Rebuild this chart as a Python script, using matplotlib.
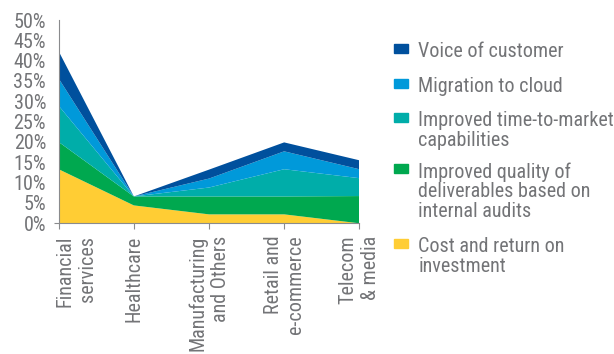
import matplotlib
matplotlib.use("Agg")
import matplotlib.pyplot as plt
from matplotlib.patches import Rectangle
from matplotlib.transforms import ScaledTranslation

# Data (percent of respondents, stacked bottom to top)
categories = ["Financial\nservices", "Healthcare", "Manufacturing\nand Others",
              "Retail and\ne-commerce", "Telecom\n& media"]
series_names = ["Cost and return on\ninvestment",
                "Improved quality of\ndeliverables based on\ninternal audits",
                "Improved time-to-market\ncapabilities",
                "Migration to cloud",
                "Voice of customer"]
cost_roi = [13.3, 4.4, 2.2, 2.2, 0.0]
quality = [6.7, 2.2, 4.4, 4.4, 6.7]
time_to_market = [8.9, 0.0, 2.2, 6.7, 4.4]
cloud = [6.7, 0.0, 2.2, 4.4, 2.2]
voice = [6.7, 0.0, 2.2, 2.2, 2.2]
y_ticks = [0, 5, 10, 15, 20, 25, 30, 35, 40, 45, 50]

colors = ["#FFCD34", "#00A84F", "#00ADA9", "#0099DA", "#00509D"]
text_color = "#737477"
axis_color = "#8A8B8D"

plt.rcParams['font.family'] = ['Roboto Condensed', 'DejaVu Sans']

W, H = 614, 354
fig = plt.figure(figsize=(W / 100, H / 100), dpi=100)
ax = fig.add_axes([58.7 / W, 1 - 223.3 / H, 300.6 / W, 203.3 / H])

x = list(range(len(categories)))
ax.stackplot(x, cost_roi, quality, time_to_market, cloud, voice,
             colors=colors, linewidth=0)

ax.set_xlim(0, len(categories) - 1)
ax.set_ylim(0, 50)

# Peripherals
for side in ["top", "right"]:
    ax.spines[side].set_visible(False)
for side in ["left", "bottom"]:
    ax.spines[side].set_color(axis_color)
    ax.spines[side].set_linewidth(0.8)

ax.set_yticks(y_ticks)
ax.set_yticklabels([f"{t}%" for t in y_ticks], fontsize=14.5, color=text_color)
ax.tick_params(axis="y", length=3.6, width=0.8, color=axis_color, pad=5.5)
for i, tick in enumerate(ax.yaxis.get_major_ticks()):
    if i > 0:
        tick.tick1line.set_visible(False)

ax.set_xticks(x)
ax.set_xticklabels(categories, rotation=90, fontsize=14.5, color=text_color,
                   va="top", ha="center", multialignment="right",
                   linespacing=1.2)
ax.tick_params(axis="x", length=4, width=0.8, color=axis_color, pad=5)
first = ax.get_xticklabels()[0]
first.set_horizontalalignment("left")
first.set_transform(first.get_transform()
                    + ScaledTranslation(-3 / 100, 0, fig.dpi_scale_trans))

# Legend, drawn top to bottom (text tops in pixels)
legend_rows = [(series_names[4], colors[4], 42),
               (series_names[3], colors[3], 77),
               (series_names[2], colors[2], 111),
               (series_names[1], colors[1], 162),
               (series_names[0], colors[0], 237)]
for label, color, top in legend_rows:
    fig.patches.append(Rectangle((394.3 / W, 1 - (top + 10.5) / H),
                                 13.4 / W, 8.5 / H,
                                 transform=fig.transFigure, color=color))
    fig.text(418.3 / W, 1 - top / H, label, fontsize=14.5, color=text_color,
             va="top", ha="left", linespacing=1.05)

fig.savefig("out.png", dpi=100)
